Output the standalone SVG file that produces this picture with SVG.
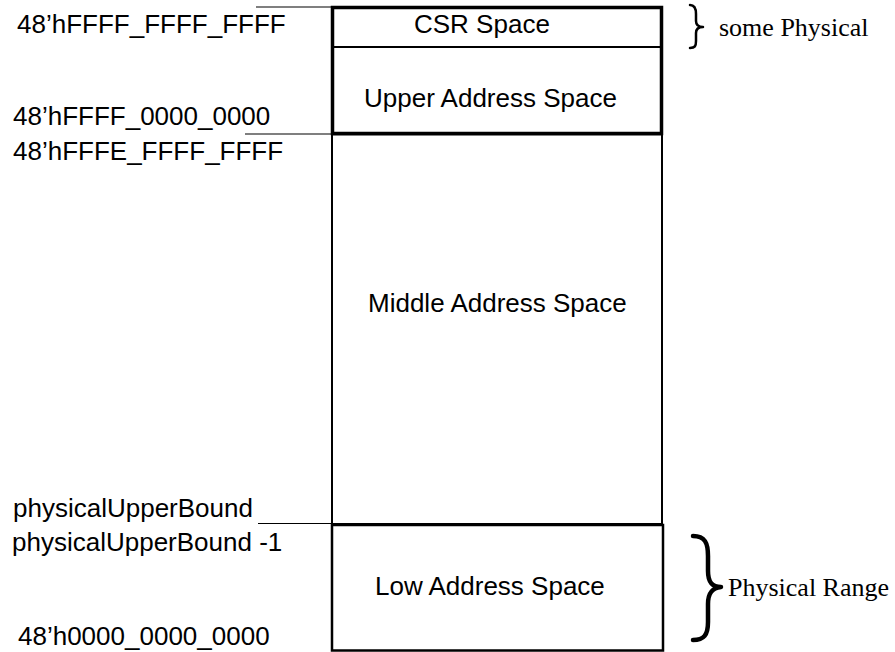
<svg xmlns="http://www.w3.org/2000/svg" width="895" height="652" viewBox="0 0 895 652">
<style>
.lbl{font-family:"Liberation Sans",Arial,sans-serif;font-size:26px;fill:#000}
.ser{font-family:"Liberation Serif","Times New Roman",serif;fill:#000}
.box{fill:#fff;stroke:#000}
.lead{stroke:#000;stroke-width:1.2;fill:none}
.brace{fill:none;stroke:#000;stroke-linecap:round;stroke-linejoin:round}
</style>
<rect width="895" height="652" fill="#fff"/>
<g id="connectors">
<line class="lead" x1="256" y1="7" x2="332" y2="7"/>
<line class="lead" x1="245" y1="134" x2="332" y2="134"/>
<line class="lead" x1="258" y1="523.5" x2="345" y2="523.5"/>
</g>
<g id="upper-block">
<rect class="box" x="332.5" y="7.5" width="329" height="126" stroke-width="3.5"/>
<line x1="333" y1="47" x2="661" y2="47" stroke="#000" stroke-width="2"/>
</g>
<g id="csr">
<text class="lbl" x="414" y="33">CSR Space</text>
</g>
<g id="upper">
<text class="lbl" x="364" y="107">Upper Address Space</text>
</g>
<g id="middle">
<rect class="box" x="332" y="134.5" width="330" height="389.5" stroke-width="2"/>
<text class="lbl" x="368" y="312">Middle Address Space</text>
</g>
<g id="low">
<rect class="box" x="332" y="525" width="331" height="125.5" stroke-width="2.5"/>
<text class="lbl" x="375" y="595">Low Address Space</text>
</g>
<g id="addr-labels">
<text class="lbl" x="17" y="33">48’hFFFF_FFFF_FFFF</text>
<text class="lbl" x="13" y="125">48’hFFFF_0000_0000</text>
<text class="lbl" x="13" y="160">48’hFFFE_FFFF_FFFF</text>
<text class="lbl" x="13" y="517">physicalUpperBound</text>
<text class="lbl" x="12" y="551">physicalUpperBound -1</text>
<text class="lbl" x="18" y="645">48’h0000_0000_0000</text>
</g>
<g id="some-physical">
<path class="brace" stroke-width="2.5" d="M690,5 C695,5 696,9 696,14 L696,21 C696,25 698,27 703,27 C698,27 696,29 696,33 L696,41 C696,46 695,48 690,48"/>
<text class="ser" x="719" y="36" font-size="26">some Physical</text>
</g>
<g id="physical-range">
<path class="brace" stroke-width="4.5" d="M693,536 C705,536 708,543 708,556 L708,571 C708,582 712,587 721,587 C712,588 708,593 708,604 L708,622 C708,635 704,640 693,640"/>
<text class="ser" x="728" y="596" font-size="26">Physical Range</text>
</g>
</svg>
